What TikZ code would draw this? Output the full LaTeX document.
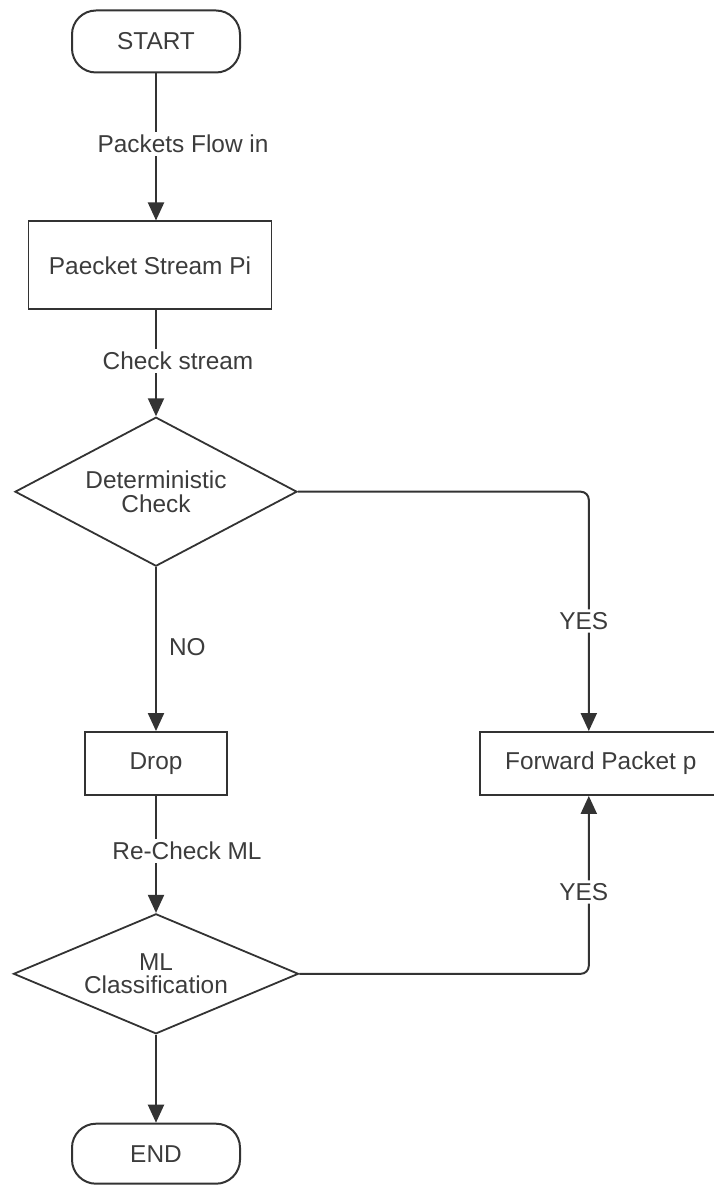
\documentclass[tikz,border=0pt]{standalone}
\usepackage{fontspec}
\setmainfont{Liberation Sans}
\usetikzlibrary{arrows.meta,positioning,shapes.geometric}
\definecolor{linegray}{HTML}{333333}
\definecolor{textgray}{HTML}{3C3C3C}
\tikzset{
    %Define standard arrow tip
    >={Triangle[width=8pt,length=9pt]},
    %Define style for start and end
    terminal/.style={
           rectangle,
           rounded corners=12pt,
           draw=linegray, line width=1pt,
           minimum width=84pt,
           minimum height=31pt,
           text=textgray},
    %Define style for boxes
    box/.style={
           rectangle,
           draw=linegray, line width=0.9pt,
           minimum height=31.5pt,
           text=textgray},
    %Define style for decisions
    decision/.style={
           diamond,
           draw=linegray, line width=0.9pt,
           inner sep=1pt,
           align=center,
           text=textgray},
    % Define arrow style
    flow/.style={
           ->,
           draw=linegray,
           line width=1pt},
    branch/.style={
           ->,
           draw=linegray,
           line width=1pt,
           rounded corners=4pt},
    lbl/.style={
           fill=white,
           inner sep=1.5pt,
           text=textgray}
}

\begin{document}
\begin{tikzpicture}[x=0.5pt, y=-0.5pt, font=\fontsize{12.2pt}{11.6pt}\selectfont]
\useasboundingbox (0,0) rectangle (713,1187);
 %nodes
    \node[terminal] (start) at (156,41.5) {START};
    \node[box, minimum width=121.5pt, minimum height=44pt, below=73.5pt of start, xshift=-3pt] (stream) {Paecket Stream Pi};
    \node[decision, aspect=1.9, minimum width=141pt, minimum height=74.5pt, below=53pt of stream, xshift=3pt] (detcheck) {Deterministic\\Check};
    \node[box, minimum width=71pt, below=82pt of detcheck] (drop) {Drop};
    \node[box, minimum width=121pt, right=125.5pt of drop] (fwd) {Forward Packet p};
    \node[decision, aspect=2.4, minimum width=142.5pt, minimum height=60pt, below=58.5pt of drop] (mlcheck) {ML\\Classification};
    \node[terminal, minimum height=30pt, below=44pt of mlcheck] (finish) {END};
 %edges
    \draw[flow] (start) -- node[lbl, pos=0.48, xshift=13.5pt] {Packets Flow in} (start |- stream.north);
    \draw[flow] (stream.south -| detcheck) -- node[lbl, pos=0.48, xshift=11pt] {Check stream} (detcheck);
    \draw[flow] (detcheck) -- node[lbl, pos=0.49, right=4.5pt] {NO} (drop);
    \draw[flow] (drop) -- node[lbl, pos=0.47, xshift=15.5pt] {Re-Check ML} (mlcheck);
    \draw[flow] (mlcheck) -- (finish);
    \draw[branch] (detcheck.east) -| node[lbl, pos=0.77, xshift=-2.5pt] {YES} ([xshift=-6pt]fwd.north);
    \draw[branch] (mlcheck.east) -| node[lbl, pos=0.73, xshift=-2.5pt] {YES} ([xshift=-6pt]fwd.south);
\end{tikzpicture}
\end{document}
